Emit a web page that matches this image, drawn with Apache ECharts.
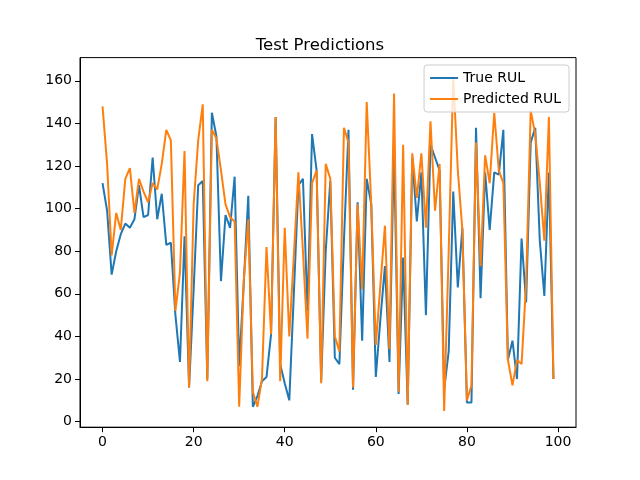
<!DOCTYPE html>
<html>
<head>
<meta charset="utf-8">
<script src="https://cdn.jsdelivr.net/npm/echarts@6/dist/echarts.min.js"></script>
<style>
  html, body { margin: 0; padding: 0; background: #fff; }
  #chart { width: 640px; height: 480px; }
</style>
</head>
<body>
<div id="chart"></div>
<script>
// values
const trueRUL = [
  112, 99, 69, 80, 88, 93, 91, 95, 111, 96,
  97, 124, 95, 107, 83, 84, 50, 28, 87, 16,
  62, 111, 113, 20, 145, 134, 66, 97, 91, 115,
  26, 65, 106, 7, 12, 19, 21, 41, 143, 27,
  18, 10, 60, 111, 114, 52, 135, 118, 19, 80,
  113, 30, 27, 85, 137, 15, 103, 38, 114, 102,
  21, 48, 73, 28, 130, 13, 77, 8, 124, 94,
  117, 50, 130, 124, 118, 15, 33, 108, 63, 91,
  9, 9, 138, 58, 117, 90, 117, 116, 137, 29,
  38, 20, 86, 56, 131, 138, 85, 59, 117, 20
]
const predictedRUL = [
  148, 121, 78, 98, 90, 114, 119, 98, 114, 108,
  103, 112, 109, 121, 137, 132, 52, 70, 127, 16,
  102, 132, 149, 19, 137, 133, 118, 102, 96, 94,
  7, 66, 95, 14, 7, 20, 82, 41, 143, 19,
  91, 40, 78, 117, 80, 39, 112, 118, 18, 121,
  114, 40, 33, 138, 131, 16, 102, 62, 150, 102,
  36, 64, 92, 34, 154, 14, 130, 8, 126, 105,
  126, 91, 141, 99, 121, 5, 80, 162, 118, 90,
  10, 17, 131, 73, 125, 112, 145, 118, 112, 29,
  17, 29, 27, 65, 146, 135, 112, 85, 143, 20
]
const xTicks = [0, 20, 40, 60, 80, 100]
const yTicks = [0, 20, 40, 60, 80, 100, 120, 140, 160]

const toPoints = (arr) => arr.map((v, i) => [i, v])

const myChart = echarts.init(document.getElementById('chart'))
const font = 'DejaVu Sans'

myChart.setOption({
  animation: false,
  title: {
    text: 'Test Predictions',
    left: 'center',
    top: 32,
    textStyle: { fontFamily: font, fontSize: 16.5, fontWeight: 'normal', color: '#000' }
  },
  legend: {
    orient: 'vertical',
    right: 71,
    top: 65,
    padding: [6, 8, 6, 6],
    itemGap: 7,
    itemWidth: 28,
    itemHeight: 2,
    icon: 'rect',
    backgroundColor: 'rgba(255,255,255,0.8)',
    borderColor: '#ccc',
    borderWidth: 1,
    borderRadius: 3,
    textStyle: { fontFamily: font, fontSize: 14, color: '#000' },
    data: ['True RUL', 'Predicted RUL']
  },
  grid: {
    left: 80, right: 64, top: 57.6, bottom: 52.8,
    show: true, borderColor: '#000', borderWidth: 1, backgroundColor: 'transparent'
  },
  xAxis: {
    type: 'value',
    min: -4.95,
    max: 103.95,
    splitLine: { show: false },
    axisLine: { onZero: false, lineStyle: { color: '#000' } },
    axisTick: { customValues: xTicks, length: 5, lineStyle: { color: '#000' } },
    axisLabel: { customValues: xTicks, margin: 8, fontFamily: font, fontSize: 14, color: '#000' }
  },
  yAxis: {
    type: 'value',
    min: -2.6,
    max: 170.9,
    splitLine: { show: false },
    axisLine: { show: true, onZero: false, lineStyle: { color: '#000' } },
    axisTick: { show: true, customValues: yTicks, length: 5, lineStyle: { color: '#000' } },
    axisLabel: { customValues: yTicks, margin: 8, fontFamily: font, fontSize: 14, color: '#000' }
  },
  series: [
    {
      name: 'True RUL',
      type: 'line',
      data: toPoints(trueRUL),
      showSymbol: false,
      color: '#1f77b4',
      lineStyle: { width: 2, color: '#1f77b4' }
    },
    {
      name: 'Predicted RUL',
      type: 'line',
      data: toPoints(predictedRUL),
      showSymbol: false,
      color: '#ff7f0e',
      lineStyle: { width: 2, color: '#ff7f0e' }
    }
  ]
})
</script>
</body>
</html>
